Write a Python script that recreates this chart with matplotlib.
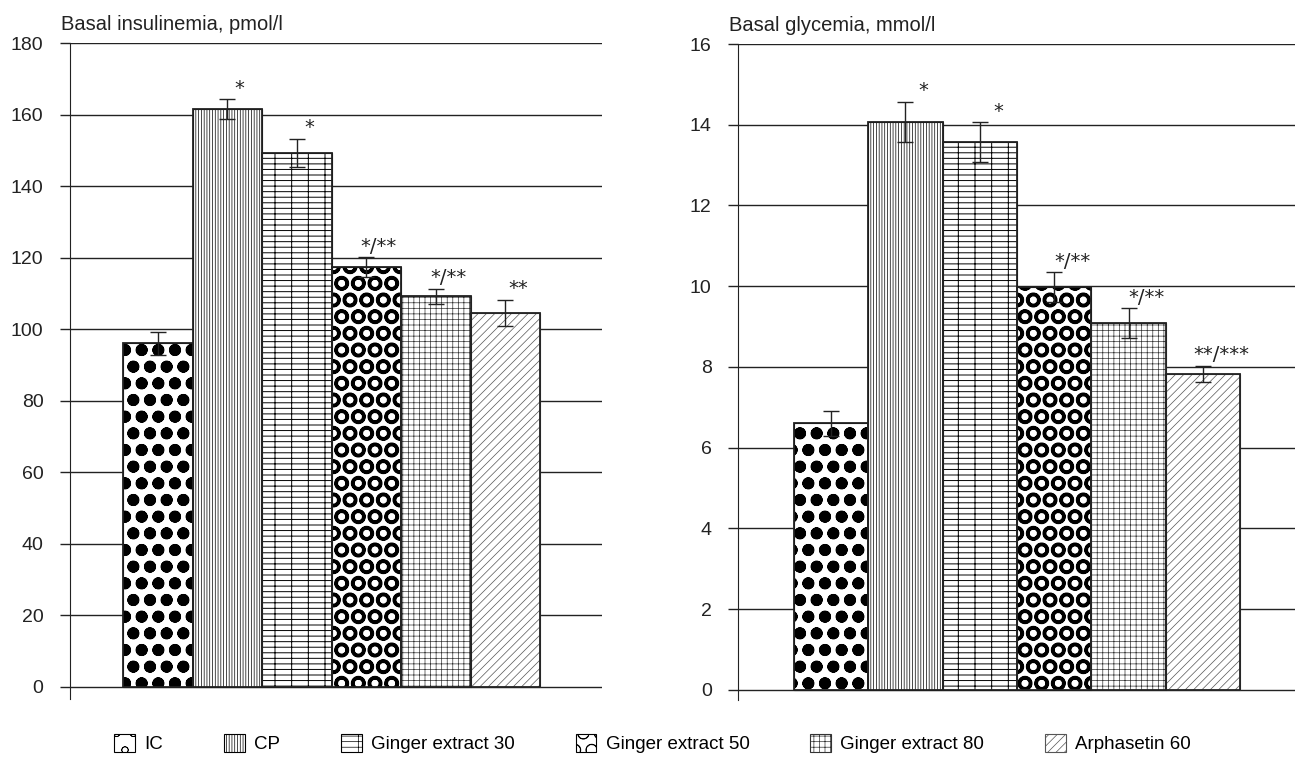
import numpy as np
import matplotlib
matplotlib.use("Agg")
import matplotlib.pyplot as plt
from matplotlib.patches import Patch

plt.rcParams['font.family'] = ['Liberation Sans', 'DejaVu Sans']

groups = ["IC", "CP", "Ginger extract 30", "Ginger extract 50",
          "Ginger extract 80", "Arphasetin 60"]

insulin = [96, 161.5, 149.2, 117.4, 109.2, 104.6]
insulin_err = [3.2, 2.8, 4.0, 2.8, 2.1, 3.6]
insulin_marks = ["", "*", "*", "*/**", "*/**", "**"]

glucose = [6.6, 14.07, 13.57, 9.98, 9.09, 7.83]
glucose_err = [0.3, 0.5, 0.5, 0.36, 0.37, 0.2]
glucose_marks = ["", "*", "*", "*/**", "*/**", "**/***"]

# hatch patterns standing in for the print textures
hatches = ["o", "||||||", "---|", "O", "+++", "////"]
hatch_lw = [3.9, 0.5, 0.7, 2.4, 0.5, 0.5]
hatch_col = ["black", "black", "black", "black", "#333333", "#555555"]


def draw_panel(ax, vals, errs, marks, ymax, ystep, ybottom, title, xlim,
               mark_dx, title_y):
    x = np.arange(len(vals))
    for i in x:
        plt.rcParams['hatch.linewidth'] = hatch_lw[i]
        b = ax.bar(x[i], vals[i], width=1.0, color="white",
                   edgecolor=hatch_col[i], hatch=hatches[i], linewidth=0.8,
                   zorder=3)
        for p in b:
            if hasattr(p, "set_hatch_linewidth"):
                p.set_hatch_linewidth(hatch_lw[i])
        ax.bar(x[i], vals[i], width=1.0, color="none",
               edgecolor="#222222", linewidth=1.3, zorder=4)
    ax.errorbar(x, vals, yerr=errs, fmt="none", ecolor="#222222",
                elinewidth=1.0, capsize=6, capthick=1.0, zorder=5)
    for i in x:
        if marks[i]:
            ax.annotate(marks[i], (x[i], vals[i] + errs[i]),
                        xytext=(mark_dx, 1), textcoords="offset points",
                        ha="center", va="bottom", fontsize=14,
                        family="DejaVu Sans", color="#222222")
    ax.set_ylim(ybottom, ymax)
    ax.set_xlim(*xlim)
    ax.set_yticks(np.arange(0, ymax + ystep / 2, ystep))
    ax.yaxis.grid(True, color="#222222", linewidth=1.0, zorder=0)
    ax.set_axisbelow(True)
    ax.set_xticks([])
    for s in ["top", "right", "bottom"]:
        ax.spines[s].set_visible(False)
    ax.spines["left"].set_color("#222222")
    ax.tick_params(axis="y", length=7, width=1, labelsize=14,
                   color="#222222", labelcolor="#222222", pad=12)
    ax.text(-0.016, title_y, title, transform=ax.transAxes, fontsize=14.5,
            ha="left", va="baseline", color="#222222")


fig = plt.figure(figsize=(12.95, 7.64), dpi=100)
ax1 = fig.add_axes([0.054, 0.0851, 0.411, 0.8586])
ax2 = fig.add_axes([0.5699, 0.0838, 0.4301, 0.8586])

draw_panel(ax1, insulin, insulin_err, insulin_marks, 180, 20, -3.4,
           "Basal insulinemia, pmol/l", (-1.263, 6.392), 9, 1.02)
draw_panel(ax2, glucose, glucose_err, glucose_marks, 16, 2, -0.25,
           "Basal glycemia, mmol/l", (-1.25, 6.238), 13, 1.02)

handles = []
for i, g in enumerate(groups):
    plt.rcParams['hatch.linewidth'] = hatch_lw[i]
    h = Patch(facecolor="white", edgecolor=hatch_col[i], hatch=hatches[i],
              linewidth=0.8, label=g)
    if hasattr(h, "set_hatch_linewidth"):
        h.set_hatch_linewidth(hatch_lw[i])
    handles.append(h)

fig.legend(handles=handles, loc="center", bbox_to_anchor=(0.504, 0.027),
           ncol=6, frameon=False, fontsize=13.5, handlelength=1.1,
           handleheight=1.1, handletextpad=0.5, columnspacing=3.25)

fig.savefig("out.png", dpi=100)
